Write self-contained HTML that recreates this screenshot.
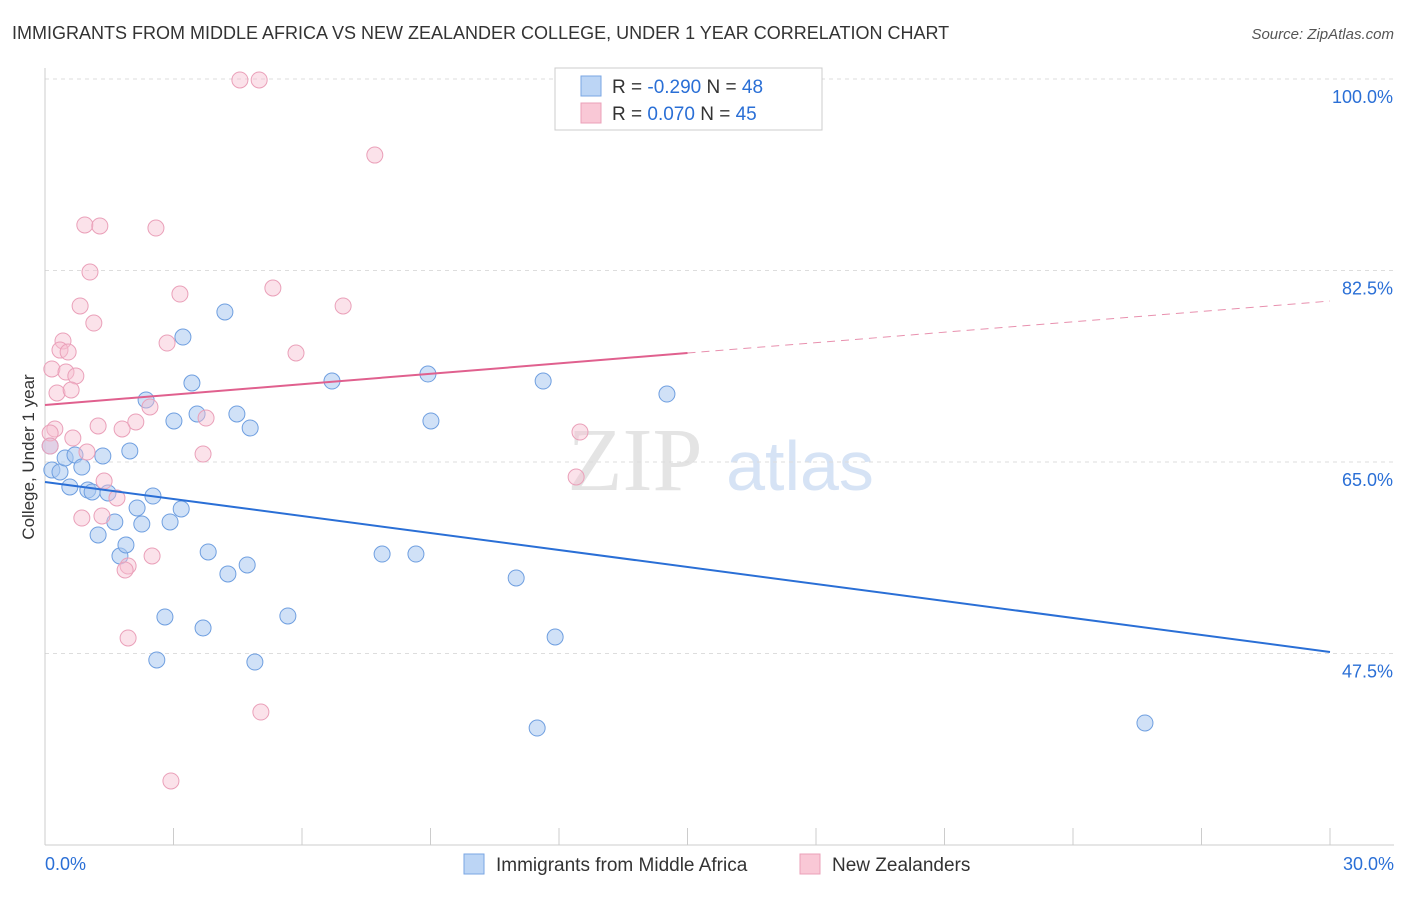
<!DOCTYPE html>
<html><head><meta charset="utf-8"><style>
body{margin:0;background:#fff;font-family:"Liberation Sans",sans-serif}
</style></head><body>
<svg id="chart" width="1406" height="892" xmlns="http://www.w3.org/2000/svg" style="font-family:'Liberation Sans',sans-serif">
<text x="12" y="39" font-size="18" fill="#333">IMMIGRANTS FROM MIDDLE AFRICA VS NEW ZEALANDER COLLEGE, UNDER 1 YEAR CORRELATION CHART</text>
<text x="1394" y="39" font-size="15" fill="#555" text-anchor="end" font-style="italic">Source: ZipAtlas.com</text>
<g>
<text x="635" y="490" font-size="90" fill="#e4e4e4" text-anchor="middle" font-family="Liberation Serif">ZIP</text>
<text x="800" y="490" font-size="70" fill="#d6e3f5" text-anchor="middle">atlas</text>
</g>
<g id="grid"></g>
<g id="axes"></g>
<g id="marks"></g>
<text transform="translate(34,457) rotate(-90)" font-size="17" fill="#333" text-anchor="middle">College, Under 1 year</text>
<g>
<rect x="555" y="68" width="267" height="62" fill="#fff" stroke="#ccc"/>
<rect x="581" y="76" width="20" height="20" fill="#bcd5f5" stroke="#7aa6e3"/>
<rect x="581" y="103" width="20" height="20" fill="#f9c8d6" stroke="#eba0b8"/>
<text x="612" y="93" font-size="19" fill="#333">R = <tspan fill="#2a6fd6">-0.290</tspan>   N = <tspan fill="#2a6fd6">48</tspan></text>
<text x="612" y="120" font-size="19" fill="#333">R =  <tspan fill="#2a6fd6">0.070</tspan>   N = <tspan fill="#2a6fd6">45</tspan></text>
</g>
<g>
<rect x="464" y="854" width="20" height="20" fill="#bcd5f5" stroke="#7aa6e3"/>
<text x="496" y="871" font-size="19" fill="#333">Immigrants from Middle Africa</text>
<rect x="800" y="854" width="20" height="20" fill="#f9c8d6" stroke="#eba0b8"/>
<text x="832" y="871" font-size="19" fill="#333">New Zealanders</text>
</g>
</svg>
<script>
const yTicks=[100,82.5,65,47.5];
const yTickLabels=["100.0%","82.5%","65.0%","47.5%"];
const xTickLabels=["0.0%","30.0%"];
const blueX=[0.16,0.35,0.47,0.58,0.70,0.86,1.00,1.10,1.24,1.35,1.47,1.63,1.75,1.89,1.98,2.15,2.26,2.36,2.52,2.61,2.80,2.92,3.01,3.18,3.22,3.43,3.55,3.69,3.81,4.20,4.27,4.48,4.72,4.79,4.90,5.67,6.70,7.87,8.66,8.94,9.01,11.00,11.49,11.63,11.91,14.52,25.68,0.12];
const blueY=[64.27,64.09,65.37,62.72,65.64,64.54,62.44,62.26,58.33,65.55,62.17,59.52,56.41,57.42,66.01,60.80,59.33,70.67,61.89,46.91,50.84,59.52,68.75,60.71,76.42,72.22,69.39,49.83,56.78,78.71,54.77,69.39,55.59,68.11,46.72,50.93,72.40,56.59,56.59,73.04,68.75,54.40,40.69,72.40,49.01,71.21,41.15,66.46];
const pinkX=[4.55,5.00,7.70,0.93,1.28,2.59,1.05,3.15,5.32,0.82,6.96,1.14,0.42,2.85,0.35,0.54,5.86,0.16,0.49,0.72,0.28,0.61,2.45,3.76,2.12,1.24,1.80,0.23,12.49,0.65,0.12,0.98,3.69,1.38,1.68,1.33,0.86,2.50,1.94,1.87,1.94,12.40,5.04,2.94,0.12];
const pinkY=[99.91,99.91,93.05,86.66,86.57,86.38,82.36,80.35,80.90,79.26,79.26,77.70,76.06,75.87,75.23,75.05,74.96,73.50,73.22,72.86,71.31,71.58,70.03,69.02,68.66,68.29,68.02,68.02,67.74,67.19,67.65,65.91,65.73,63.26,61.71,60.07,59.88,56.41,55.50,55.13,48.92,63.63,42.15,35.85,66.46];
const blueTrend=[63.17,47.64];
const pinkTrend=[70.21,79.71];
const pinkSolidEnd=15.0;
const NS="http://www.w3.org/2000/svg";
const X=v=>45+v/30*1285;
const Y=v=>462-(v-65)*191.5/17.5;
function mk(tag,attrs,parent){const e=document.createElementNS(NS,tag);for(const k in attrs)e.setAttribute(k,attrs[k]);parent.appendChild(e);return e;}
const grid=document.getElementById('grid'),axes=document.getElementById('axes'),marks=document.getElementById('marks');
yTicks.forEach((t,i)=>{
 const l=mk('line',{x1:45,x2:1394,y1:Y(t),y2:Y(t),stroke:'#ddd','stroke-dasharray':'4,4'},grid);
 
 
 const tx=mk('text',{x:1393,y:Y(t)+24,'font-size':18,fill:'#2a6fd6','text-anchor':'end'},axes);
 tx.textContent=yTickLabels[i];
 
 
});
const ax=mk('line',{x1:45,x2:45,y1:68,y2:845,stroke:'#ccc'},axes);


const bx=mk('line',{x1:45,x2:1394,y1:845,y2:845,stroke:'#ccc'},axes);


for(let i=1;i<=10;i++){
 const t=mk('line',{x1:X(i*3),x2:X(i*3),y1:828,y2:845,stroke:'#ccc'},axes);
 
 
}
[[0,45,'start'],[30,1394,'end']].forEach((d,i)=>{
 const t=mk('text',{x:d[1],y:870,'font-size':18,fill:'#2a6fd6','text-anchor':d[2]},axes);
 t.textContent=xTickLabels[i];
 
 
});
blueX.forEach((v,i)=>{
 const c=mk('circle',{cx:X(v),cy:Y(blueY[i]),r:8,fill:'rgba(169,200,240,0.55)',stroke:'#6f9fe0','stroke-width':1},marks);
 
 
});
pinkX.forEach((v,i)=>{
 const c=mk('circle',{cx:X(v),cy:Y(pinkY[i]),r:8,fill:'rgba(246,190,208,0.45)',stroke:'#eaa0b9','stroke-width':1},marks);
 
 
});
const bl=mk('line',{x1:X(0),y1:Y(blueTrend[0]),x2:X(30),y2:Y(blueTrend[1]),stroke:'#2a6fd6','stroke-width':2},marks);


const pm=pinkTrend[0]+(pinkTrend[1]-pinkTrend[0])*pinkSolidEnd/30;
const ps=mk('line',{x1:X(0),y1:Y(pinkTrend[0]),x2:X(pinkSolidEnd),y2:Y(pm),stroke:'#e0608e','stroke-width':2},marks);


const pd=mk('line',{x1:X(pinkSolidEnd),y1:Y(pm),x2:X(30),y2:Y(pinkTrend[1]),stroke:'#e890ae','stroke-width':1,'stroke-dasharray':'8,6'},marks);


</script>
</body></html>
